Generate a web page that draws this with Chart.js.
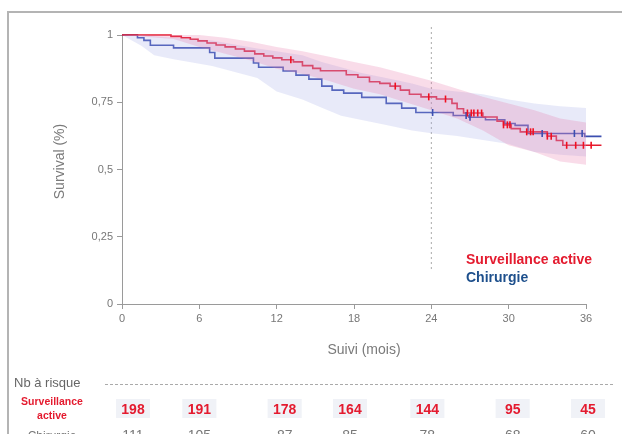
<!DOCTYPE html>
<html>
<head>
<meta charset="utf-8">
<script src="https://cdn.jsdelivr.net/npm/chart.js@4.4.1/dist/chart.umd.min.js"></script>
<style>
  html, body { margin: 0; padding: 0; background: #fff; }
  #wrap { width: 622px; height: 434px; }
</style>
</head>
<body>
<div id="wrap"><canvas id="km" width="622" height="434"></canvas></div>
<script>
// Kaplan-Meier: Surveillance active vs Chirurgie (step points: time in months, survival after the step)
const activeTimes = [0, 3.8, 4.6, 5.3, 5.9, 6.6, 7.3, 8.0, 8.8, 9.5, 10.3, 11.0, 11.7, 12.4, 13.3, 14.0, 14.8, 15.4, 17.4, 18.3, 19.2, 20.0, 20.8, 21.6, 22.3, 23.2, 24.4, 25.6, 26.0, 26.5, 28.0, 29.1, 29.6, 30.2, 30.9, 33.0, 33.7, 34.2, 37.2];
const activeSurv  = [1, 0.995, 0.99, 0.984, 0.978, 0.97, 0.963, 0.956, 0.948, 0.94, 0.93, 0.922, 0.915, 0.908, 0.9, 0.886, 0.876, 0.867, 0.852, 0.843, 0.826, 0.82, 0.81, 0.795, 0.78, 0.77, 0.762, 0.746, 0.726, 0.71, 0.695, 0.68, 0.666, 0.652, 0.64, 0.624, 0.608, 0.59, 0.59];
const activeCensored = [13.1, 21.2, 23.8, 25.1, 26.8, 27.1, 27.3, 27.6, 27.9, 29.6, 29.9, 30.1, 31.4, 31.7, 31.9, 33.0, 33.3, 34.5, 35.2, 35.8, 36.4, 37.1];

const surgeryTimes = [0, 1.2, 1.7, 2.2, 4.0, 6.8, 7.2, 10.2, 10.6, 12.5, 13.5, 14.5, 15.5, 16.3, 17.2, 18.6, 20.5, 21.7, 22.8, 25.7, 26.9, 28.2, 29.7, 30.5, 31.5, 35.9, 37.2];
const surgerySurv  = [1, 0.99, 0.98, 0.962, 0.952, 0.935, 0.914, 0.896, 0.88, 0.866, 0.851, 0.836, 0.81, 0.795, 0.784, 0.768, 0.746, 0.728, 0.712, 0.701, 0.694, 0.685, 0.671, 0.664, 0.634, 0.623, 0.623];
const surgeryCensored = [24.1, 26.7, 27.0, 32.6, 35.1, 35.7, 37.1];

// 95% confidence bands
const activeBandTimes = [0, 4, 6, 8, 10, 12, 14, 16, 18, 20, 22, 24, 26, 28, 30, 32, 34, 37.2];
const activeUpper     = [1, 1, 1, 0.99, 0.975, 0.955, 0.94, 0.92, 0.9, 0.88, 0.855, 0.83, 0.8, 0.77, 0.745, 0.72, 0.69, 0.665];
const activeLower     = [1, 0.985, 0.955, 0.93, 0.905, 0.875, 0.855, 0.83, 0.8, 0.78, 0.75, 0.72, 0.69, 0.645, 0.59, 0.565, 0.53, 0.51];

const surgeryBandTimes = [0, 1.5, 2.5, 4, 7, 10.5, 12, 14, 15.5, 17, 18.5, 20.5, 22.5, 24, 26, 28, 30, 32, 34, 37.2];
const surgeryUpper     = [1, 1, 0.995, 0.99, 0.98, 0.95, 0.94, 0.925, 0.9, 0.88, 0.86, 0.84, 0.82, 0.8, 0.79, 0.78, 0.76, 0.745, 0.735, 0.725];
const surgeryLower     = [1, 0.96, 0.925, 0.91, 0.885, 0.84, 0.79, 0.76, 0.73, 0.7, 0.685, 0.665, 0.645, 0.635, 0.625, 0.61, 0.595, 0.565, 0.555, 0.545];

// axis ticks and landmark
const monthTicks = [0, 6, 12, 18, 24, 30, 36];
const survTicks = [0, 0.25, 0.5, 0.75, 1];
const landmarkMonth = 24;
const landmarkSpan = [0.13, 1.035];

// numbers at risk
const riskMonths  = [0, 6, 12, 18, 24, 30, 36];
const riskActive  = [198, 191, 178, 164, 144, 95, 45];
const riskSurgery = [111, 105, 87, 85, 78, 68, 60];

const RED = '#e41b2f';
const BLUE = '#3c4fb0';
const SANS = '"Liberation Sans", Arial, sans-serif';

function toPoints(xs, ys) { return xs.map((x, i) => ({ x: x, y: ys[i] })); }
function survAt(t, xs, ys) {
  let v = ys[0];
  for (let i = 0; i < xs.length; i++) { if (xs[i] <= t) v = ys[i]; else break; }
  return v;
}

const frameAndTable = {
  id: 'frameAndTable',
  beforeDraw(chart) {
    const ctx = chart.ctx;
    ctx.save();
    ctx.strokeStyle = '#b4b4b4';
    ctx.lineWidth = 2;
    ctx.beginPath();
    ctx.moveTo(8, 440); ctx.lineTo(8, 12); ctx.lineTo(622, 12);
    ctx.stroke();
    ctx.restore();
  },
  afterDraw(chart) {
    const ctx = chart.ctx;
    const x = chart.scales.x;
    const area = chart.chartArea;
    ctx.save();

    // axis titles
    ctx.font = '14px ' + SANS;
    ctx.fillStyle = '#7a7a7a';
    ctx.textAlign = 'center';
    ctx.textBaseline = 'middle';
    ctx.fillText('Suivi (mois)', (area.left + area.right) / 2 + 10, area.bottom + 46);
    ctx.save();
    ctx.translate(area.left - 62, (area.top + area.bottom) / 2 - 8);
    ctx.rotate(-Math.PI / 2);
    ctx.fillText('Survival (%)', 0, 0);
    ctx.restore();

    // legend
    ctx.textAlign = 'left';
    ctx.textBaseline = 'alphabetic';
    ctx.font = 'bold 14px ' + SANS;
    ctx.fillStyle = RED;
    ctx.fillText('Surveillance active', 466, 264);
    ctx.fillStyle = '#1d4f8c';
    ctx.fillText('Chirurgie', 466, 282);

    // risk table header
    ctx.font = '13px ' + SANS;
    ctx.fillStyle = '#666';
    ctx.fillText('Nb \u00e0 risque', 14, 387);
    ctx.strokeStyle = '#aaa';
    ctx.lineWidth = 1;
    ctx.setLineDash([3, 2]);
    ctx.beginPath();
    ctx.moveTo(105, 384.5); ctx.lineTo(613, 384.5);
    ctx.stroke();
    ctx.setLineDash([]);

    // row labels
    ctx.textAlign = 'center';
    ctx.font = 'bold 10.5px ' + SANS;
    ctx.fillStyle = RED;
    ctx.fillText('Surveillance', 52, 405);
    ctx.fillText('active', 52, 419);
    ctx.font = '12px ' + SANS;
    ctx.fillStyle = '#777';
    ctx.fillText('Chirurgie', 52, 440);

    const nudge = [11, 0, 8, -4, -4, 4, 2];
    riskMonths.forEach((m, i) => {
      const cx = x.getPixelForValue(m) + nudge[i];
      ctx.fillStyle = 'rgba(228,231,240,0.55)';
      ctx.fillRect(cx - 17, 399, 34, 19);
      ctx.font = 'bold 14px ' + SANS;
      ctx.fillStyle = RED;
      ctx.fillText(String(riskActive[i]), cx, 414);
      ctx.font = '14px ' + SANS;
      ctx.fillStyle = '#777';
      ctx.fillText(String(riskSurgery[i]), cx, 440);
    });
    ctx.restore();
  }
};

const bandStyle = (color) => ({
  borderWidth: 0, pointRadius: 0, tension: 0, backgroundColor: color, order: 1, clip: false
});

new Chart(document.getElementById('km'), {
  type: 'line',
  data: {
    datasets: [
      Object.assign({ label: 'activeLower', data: toPoints(activeBandTimes, activeLower), fill: false }, bandStyle('rgba(232,110,165,0.24)')),
      Object.assign({ label: 'activeUpper', data: toPoints(activeBandTimes, activeUpper), fill: '-1' }, bandStyle('rgba(232,110,165,0.24)')),
      Object.assign({ label: 'surgeryLower', data: toPoints(surgeryBandTimes, surgeryLower), fill: false }, bandStyle('rgba(165,175,232,0.26)')),
      Object.assign({ label: 'surgeryUpper', data: toPoints(surgeryBandTimes, surgeryUpper), fill: '-1' }, bandStyle('rgba(165,175,232,0.26)')),
      {
        label: 'Surveillance active', data: toPoints(activeTimes, activeSurv),
        borderColor: RED, borderWidth: 1.6, pointRadius: 0, stepped: true, fill: false, order: 2, clip: false
      },
      {
        label: 'Chirurgie', data: toPoints(surgeryTimes, surgerySurv),
        borderColor: BLUE, borderWidth: 1.6, pointRadius: 0, stepped: true, fill: false, order: 2, clip: false
      },
      {
        label: 'activeCensored', data: activeCensored.map(t => ({ x: t, y: survAt(t, activeTimes, activeSurv) })),
        showLine: false, pointStyle: 'line', rotation: 90, pointRadius: 3.5,
        borderColor: '#f01020', pointBorderWidth: 1.6, order: 0, clip: false
      },
      {
        label: 'surgeryCensored', data: surgeryCensored.map(t => ({ x: t, y: survAt(t, surgeryTimes, surgerySurv) })),
        showLine: false, pointStyle: 'line', rotation: 90, pointRadius: 3.5,
        borderColor: BLUE, pointBorderWidth: 1.6, order: 0, clip: false
      },
      {
        label: 'landmark', data: [{ x: landmarkMonth, y: landmarkSpan[0] }, { x: landmarkMonth, y: landmarkSpan[1] }],
        borderColor: '#a9a9a9', borderWidth: 1, borderDash: [2, 3], pointRadius: 0, fill: false, order: 3, clip: false
      }
    ]
  },
  options: {
    responsive: false,
    animation: false,
    devicePixelRatio: 1,
    layout: { padding: { left: 48, top: 35, right: 36, bottom: 70 } },
    plugins: { legend: { display: false }, tooltip: { enabled: false } },
    scales: {
      x: {
        type: 'linear', min: 0, max: 36,
        afterFit(s) { s.height = 60; },
        afterBuildTicks(s) { s.ticks = monthTicks.map(v => ({ value: v })); },
        ticks: { color: '#777', font: { family: SANS, size: 11 }, padding: 3, maxRotation: 0 },
        grid: { display: true, drawOnChartArea: false, drawTicks: true, tickLength: 5, color: '#9a9a9a' },
        border: { display: true, color: '#9a9a9a', width: 1 },
        title: { display: false }
      },
      y: {
        type: 'linear', min: 0, max: 1,
        afterFit(s) { s.width = 74; },
        afterBuildTicks(s) { s.ticks = survTicks.map(v => ({ value: v })); },
        ticks: {
          color: '#777', font: { family: SANS, size: 11 }, padding: 4,
          callback: (v) => String(v).replace('.', ',')
        },
        grid: { display: true, drawOnChartArea: false, drawTicks: true, tickLength: 5, color: '#9a9a9a' },
        border: { display: true, color: '#9a9a9a', width: 1 },
        title: { display: false }
      }
    }
  },
  plugins: [frameAndTable]
});
</script>
</body>
</html>
